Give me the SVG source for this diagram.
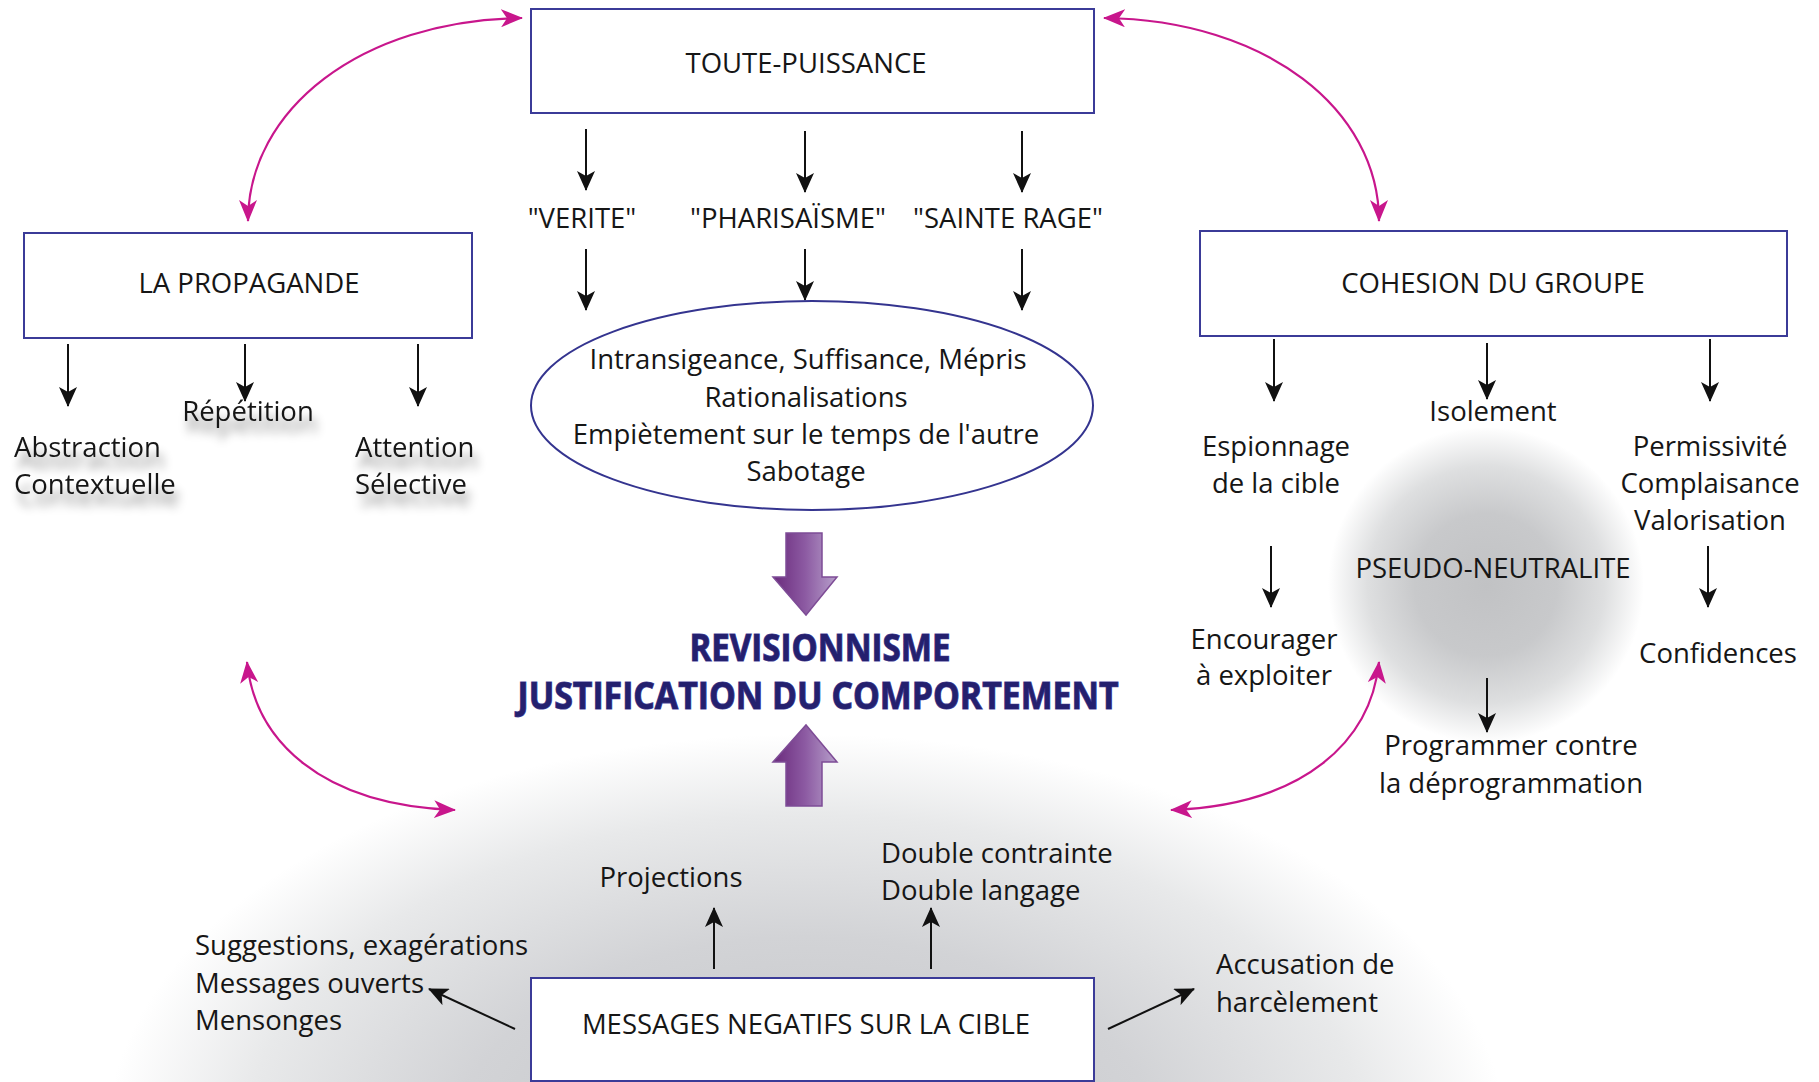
<svg xmlns="http://www.w3.org/2000/svg" width="1819" height="1082" viewBox="0 0 1819 1082">
<style>
.t{font-family:"Open Sans","Noto Sans","Liberation Sans",sans-serif;font-size:27.5px;fill:#161616}
.c{text-anchor:middle}
.box{fill:#fff;stroke:#3b3b98;stroke-width:2}
.ar{stroke:#111;stroke-width:2;fill:none;marker-end:url(#ah)}
.mg{stroke:#c8168c;stroke-width:2.2;fill:none;marker-start:url(#mh);marker-end:url(#mh)}
.big{font-family:"Open Sans","Noto Sans","Liberation Sans",sans-serif;font-weight:700;font-size:38px;fill:#24206e;stroke:#4c479c;stroke-width:1.2;paint-order:stroke;text-anchor:middle}
</style>
<defs>
<marker id="ah" viewBox="0 0 20 18" markerWidth="20" markerHeight="18" refX="19" refY="9" orient="auto" markerUnits="userSpaceOnUse">
<path d="M0,0 L20,9 L0,18 L5,9 z" fill="#111"/>
</marker>
<marker id="mh" viewBox="0 0 22 18" markerWidth="22" markerHeight="18" refX="21" refY="9" orient="auto-start-reverse" markerUnits="userSpaceOnUse">
<path d="M0,0 L22,9 L0,18 L6,9 z" fill="#c8168c"/>
</marker>
<radialGradient id="bottomG" cx="806" cy="1140" r="700" gradientUnits="userSpaceOnUse" gradientTransform="translate(806 1140) scale(1 0.58) translate(-806 -1140)">
<stop offset="0" stop-color="#c2c3c6"/>
<stop offset="0.5" stop-color="#d2d3d6"/>
<stop offset="0.8" stop-color="#e8e9ea"/>
<stop offset="1" stop-color="#ffffff"/>
</radialGradient>
<radialGradient id="pseudoG" cx="0.5" cy="0.5" r="0.5">
<stop offset="0" stop-color="#c1c2c4"/>
<stop offset="0.45" stop-color="#c8c9cb"/>
<stop offset="0.75" stop-color="#dedfe0"/>
<stop offset="1" stop-color="#ffffff"/>
</radialGradient>
<linearGradient id="purp" x1="0" y1="0" x2="1" y2="0">
<stop offset="0" stop-color="#6a2a7c"/>
<stop offset="0.5" stop-color="#8c5aa2"/>
<stop offset="1" stop-color="#b7a0cb"/>
</linearGradient>
<filter id="sh" x="-20%" y="-30%" width="140%" height="180%">
<feGaussianBlur in="SourceAlpha" stdDeviation="5"/>
<feOffset dx="4" dy="12" result="b"/>
<feFlood flood-color="#000" flood-opacity="0.45"/>
<feComposite in2="b" operator="in"/>
<feMerge><feMergeNode/><feMergeNode in="SourceGraphic"/></feMerge>
</filter>
</defs>
<rect width="1819" height="1082" fill="#fff"/>
<ellipse cx="806" cy="1140" rx="700" ry="406" fill="url(#bottomG)"/>
<circle cx="1486" cy="585" r="158" fill="url(#pseudoG)"/>

<g id="connectors">
<path class="mg" d="M248 221 C248 110 360 20 522 18"/>
<path class="mg" d="M1379 221 C1379 110 1267 20 1104 18"/>
<path class="mg" d="M247 662 C255 740 320 805 455 810"/>
<path class="mg" d="M1379 662 C1371 740 1306 805 1171 810"/>
<line class="ar" x1="586" y1="129" x2="586" y2="190"/>
<line class="ar" x1="805" y1="131" x2="805" y2="192"/>
<line class="ar" x1="1022" y1="131" x2="1022" y2="192"/>
<line class="ar" x1="586" y1="249" x2="586" y2="310"/>
<line class="ar" x1="805" y1="249" x2="805" y2="300"/>
<line class="ar" x1="1022" y1="249" x2="1022" y2="310"/>
<line class="ar" x1="68" y1="344" x2="68" y2="406"/>
<line class="ar" x1="245" y1="344" x2="245" y2="401"/>
<line class="ar" x1="418" y1="344" x2="418" y2="406"/>
<line class="ar" x1="1274" y1="339" x2="1274" y2="401"/>
<line class="ar" x1="1487" y1="343" x2="1487" y2="399"/>
<line class="ar" x1="1710" y1="339" x2="1710" y2="401"/>
<line class="ar" x1="1271" y1="546" x2="1271" y2="607"/>
<line class="ar" x1="1708" y1="546" x2="1708" y2="607"/>
<line class="ar" x1="1487" y1="678" x2="1487" y2="732"/>
<line class="ar" x1="714" y1="969" x2="714" y2="908"/>
<line class="ar" x1="931" y1="969" x2="931" y2="908"/>
<line class="ar" x1="515" y1="1029" x2="429" y2="989"/>
<line class="ar" x1="1108" y1="1029" x2="1194" y2="989"/>
<path d="M786 533 H822 V577 H837 L806 615 L773 577 H786 Z" fill="url(#purp)" stroke="#7e4c96" stroke-width="1.5"/>
<path d="M786 806 H822 V762 H837 L806 725 L773 762 H786 Z" fill="url(#purp)" stroke="#7e4c96" stroke-width="1.5"/>
</g>

<g id="toute">
<rect class="box" x="531" y="9" width="563" height="104"/>
<text class="t c" x="806" y="73">TOUTE-PUISSANCE</text>
</g>
<g id="verite"><text class="t c" x="582" y="228">"VERITE"</text></g>
<g id="pharisaisme"><text class="t c" x="788" y="228">"PHARISAÏSME"</text></g>
<g id="sainte-rage"><text class="t c" x="1008" y="228">"SAINTE RAGE"</text></g>

<g id="attitudes">
<ellipse cx="812" cy="405.5" rx="281" ry="104.5" fill="#fff" stroke="#34348f" stroke-width="2"/>
<text class="t c" x="808" y="369">Intransigeance, Suffisance, Mépris</text>
<text class="t c" x="806" y="407">Rationalisations</text>
<text class="t c" x="806" y="444">Empiètement sur le temps de l'autre</text>
<text class="t c" x="806" y="481">Sabotage</text>
</g>

<g id="propagande">
<rect class="box" x="24" y="233" width="448" height="105"/>
<text class="t c" x="249" y="293">LA PROPAGANDE</text>
</g>
<g id="prop-labels" filter="url(#sh)">
<text class="t c" x="248" y="421">Répétition</text>
<text class="t" x="14" y="457">Abstraction</text>
<text class="t" x="14" y="494">Contextuelle</text>
<text class="t" x="355" y="457">Attention</text>
<text class="t" x="355" y="494">Sélective</text>
</g>

<g id="cohesion">
<rect class="box" x="1200" y="231" width="587" height="105"/>
<text class="t c" x="1493" y="293">COHESION DU GROUPE</text>
</g>
<g id="cohesion-labels">
<text class="t c" x="1276" y="456">Espionnage</text>
<text class="t c" x="1276" y="493">de la cible</text>
<text class="t c" x="1493" y="421">Isolement</text>
<text class="t c" x="1710" y="456">Permissivité</text>
<text class="t c" x="1710" y="493">Complaisance</text>
<text class="t c" x="1710" y="530">Valorisation</text>
<text class="t c" x="1264" y="649">Encourager</text>
<text class="t c" x="1264" y="685">à exploiter</text>
<text class="t c" x="1718" y="663">Confidences</text>
</g>
<g id="pseudo">
<text class="t c" x="1493" y="578">PSEUDO-NEUTRALITE</text>
<text class="t c" x="1511" y="755">Programmer contre</text>
<text class="t c" x="1511" y="793">la déprogrammation</text>
</g>

<g id="revisionnisme">
<text class="big" x="820" y="661" textLength="261" lengthAdjust="spacingAndGlyphs">REVISIONNISME</text>
<text class="big" x="818" y="709" textLength="601" lengthAdjust="spacingAndGlyphs">JUSTIFICATION DU COMPORTEMENT</text>
</g>

<g id="messages">
<rect class="box" x="531" y="978" width="563" height="103"/>
<text class="t c" x="806" y="1034">MESSAGES NEGATIFS SUR LA CIBLE</text>
</g>
<g id="message-labels">
<text class="t c" x="671" y="887">Projections</text>
<text class="t" x="881" y="863">Double contrainte</text>
<text class="t" x="881" y="900">Double langage</text>
<text class="t" x="195" y="955">Suggestions, exagérations</text>
<text class="t" x="195" y="993">Messages ouverts</text>
<text class="t" x="195" y="1030">Mensonges</text>
<text class="t" x="1216" y="974">Accusation de</text>
<text class="t" x="1216" y="1012">harcèlement</text>
</g>
</svg>
